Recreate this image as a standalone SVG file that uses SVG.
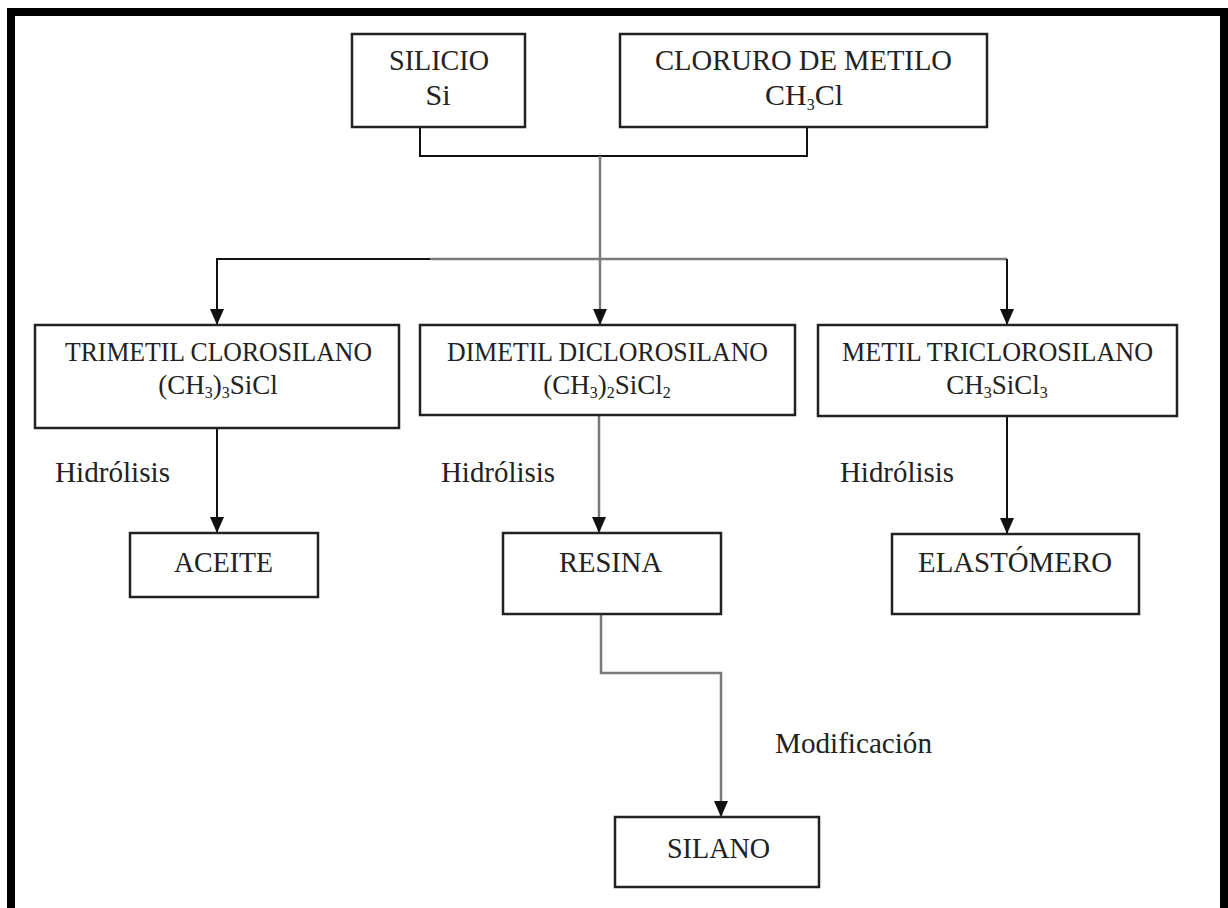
<svg xmlns="http://www.w3.org/2000/svg" width="1228" height="908" viewBox="0 0 1228 908">
<defs>
<marker id="arr" markerUnits="userSpaceOnUse" markerWidth="16" markerHeight="14" refX="16" refY="7" orient="auto">
<path d="M0,0 L16,7 L0,14 z" fill="#111"/>
</marker>
<style>
.box{fill:#fff;stroke:#222;stroke-width:2.5}
text{font-family:'Liberation Serif','DejaVu Serif',serif;fill:#222}
.big{font-size:30px}
.mid{font-size:27px}
.sub{font-size:16px}
.ln{fill:none;stroke:#111;stroke-width:2}
.gr{fill:none;stroke:#7a7a7a;stroke-width:2.5}
</style>
</defs>
<rect width="1228" height="908" fill="#fff"/>
<path d="M11,908 V12 H1224 V908" fill="none" stroke="#000" stroke-width="8"/>

<g id="connectors">
<path class="ln" d="M420,127 V156 H807 V127"/>
<path class="gr" d="M600,156 V325" marker-end="url(#arr)"/>
<path class="ln" d="M430,259 H217 V325" marker-end="url(#arr)"/>
<path class="gr" d="M430,259 H1007"/>
<path class="ln" d="M1007,259 V325" marker-end="url(#arr)"/>
<path class="ln" d="M217,428 V533" marker-end="url(#arr)"/>
<path class="gr" d="M599,415 V533" marker-end="url(#arr)"/>
<path class="ln" d="M1007,416 V534" marker-end="url(#arr)"/>
<path class="gr" d="M601,614 V673 H721 V817" marker-end="url(#arr)"/>
</g>

<g id="silicio" font-family="Liberation Serif, serif">
<rect class="box" x="352" y="34" width="173" height="93"/>
<text class="big" x="389" y="70" textLength="100" lengthAdjust="spacingAndGlyphs">SILICIO</text>
<text class="big" x="438" y="105" text-anchor="middle">Si</text>
</g>

<g id="cloruro">
<rect class="box" x="620" y="34" width="367" height="93"/>
<text class="big" x="655" y="70" textLength="297" lengthAdjust="spacingAndGlyphs">CLORURO DE METILO</text>
<text class="big" x="804" y="105" text-anchor="middle">CH<tspan class="sub" dy="5">3</tspan><tspan dy="-5">Cl</tspan></text>
</g>

<g id="trimetil">
<rect class="box" x="35" y="325" width="364" height="103"/>
<text class="mid" x="65" y="361" textLength="307" lengthAdjust="spacingAndGlyphs">TRIMETIL CLOROSILANO</text>
<text class="mid" x="218" y="394" text-anchor="middle">(CH<tspan class="sub" dy="4">3</tspan><tspan dy="-4">)</tspan><tspan class="sub" dy="4">3</tspan><tspan dy="-4">SiCl</tspan></text>
</g>

<g id="dimetil">
<rect class="box" x="420" y="325" width="375" height="90"/>
<text class="mid" x="447" y="361" textLength="321" lengthAdjust="spacingAndGlyphs">DIMETIL DICLOROSILANO</text>
<text class="mid" x="607" y="394" text-anchor="middle">(CH<tspan class="sub" dy="4">3</tspan><tspan dy="-4">)</tspan><tspan class="sub" dy="4">2</tspan><tspan dy="-4">SiCl</tspan><tspan class="sub" dy="4">2</tspan></text>
</g>

<g id="metil">
<rect class="box" x="818" y="325" width="359" height="91"/>
<text class="mid" x="842" y="361" textLength="311" lengthAdjust="spacingAndGlyphs">METIL TRICLOROSILANO</text>
<text class="mid" x="997" y="394" text-anchor="middle">CH<tspan class="sub" dy="4">3</tspan><tspan dy="-4">SiCl</tspan><tspan class="sub" dy="4">3</tspan></text>
</g>

<g id="label-hidrolisis-1">
<text class="big" x="55" y="482" textLength="115" lengthAdjust="spacingAndGlyphs">Hidrólisis</text>
</g>
<g id="label-hidrolisis-2">
<text class="big" x="441" y="482" textLength="114" lengthAdjust="spacingAndGlyphs">Hidrólisis</text>
</g>
<g id="label-hidrolisis-3">
<text class="big" x="840" y="482" textLength="114" lengthAdjust="spacingAndGlyphs">Hidrólisis</text>
</g>

<g id="aceite">
<rect class="box" x="130" y="533" width="188" height="64"/>
<text class="big" x="174" y="572" textLength="99" lengthAdjust="spacingAndGlyphs">ACEITE</text>
</g>

<g id="resina">
<rect class="box" x="503" y="533" width="218" height="81"/>
<text class="big" x="559" y="572" textLength="103" lengthAdjust="spacingAndGlyphs">RESINA</text>
</g>

<g id="elastomero">
<rect class="box" x="892" y="534" width="247" height="80"/>
<text class="big" x="918" y="572" textLength="194" lengthAdjust="spacingAndGlyphs">ELASTÓMERO</text>
</g>

<g id="label-modificacion">
<text class="big" x="775" y="753" textLength="157" lengthAdjust="spacingAndGlyphs">Modificación</text>
</g>

<g id="silano">
<rect class="box" x="615" y="817" width="204" height="70"/>
<text class="big" x="667" y="858" textLength="103" lengthAdjust="spacingAndGlyphs">SILANO</text>
</g>
</svg>
